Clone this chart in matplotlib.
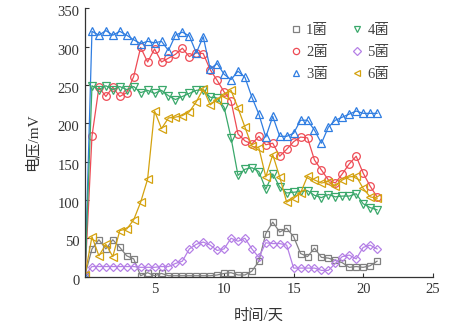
import matplotlib
matplotlib.use('Agg')
import matplotlib.pyplot as plt
from matplotlib.lines import Line2D
from matplotlib.transforms import ScaledTranslation

plt.rcParams['font.family'] = ['Liberation Serif', 'Noto Sans CJK SC']

# sampling time, days
days = [0, 0.5, 1, 1.5, 2, 2.5, 3, 3.5, 4, 4.5, 5, 5.5, 6, 6.5, 7, 7.5,
        8, 8.5, 9, 9.5, 10, 10.5, 11, 11.5, 12, 12.5, 13, 13.5, 14, 14.5,
        15, 15.5, 16, 16.5, 17, 17.5, 18, 18.5, 19, 19.5, 20, 20.5, 21]

# voltage, mV
v1 = [2, 36, 48, 36, 48, 38, 27, 23, 1, 5, 1, 4, 1, 1, 1, 1, 1, 1, 1, 2,
      4, 5, 2, 2, 7, 20, 56, 71, 58, 63, 52, 30, 26, 37, 25, 24, 21, 18,
      12, 13, 12, 14, 20]
v2 = [0, 183, 247, 235, 247, 235, 240, 261, 299, 280, 297, 280, 285, 290,
      298, 287, 292, 291, 270, 256, 241, 229, 186, 177, 173, 183, 172, 174,
      157, 166, 176, 182, 181, 152, 139, 126, 122, 134, 147, 157, 135, 118,
      104]
v3 = [0, 320, 315, 321, 315, 320, 315, 309, 304, 307, 305, 307, 295, 315,
      319, 314, 292, 313, 271, 278, 264, 257, 268, 260, 234, 212, 182, 209,
      183, 183, 187, 204, 204, 191, 174, 195, 204, 208, 212, 216, 213, 213,
      213]
v4 = [0, 249, 244, 249, 244, 248, 244, 248, 240, 243, 239, 243, 236, 231,
      235, 239, 243, 244, 234, 233, 221, 181, 132, 140, 142, 137, 114, 134,
      117, 109, 110, 111, 112, 106, 103, 107, 104, 105, 105, 108, 95, 90, 87]
v5 = [2, 13, 13, 13, 13, 13, 13, 13, 12, 12, 12, 13, 13, 17, 20, 36, 42,
      45, 41, 34, 36, 50, 46, 50, 36, 25, 44, 43, 43, 41, 11, 11, 11, 11,
      8, 8, 17, 26, 28, 23, 38, 41, 36]
v6 = [2, 52, 27, 42, 26, 60, 62, 74, 97, 127, 216, 193, 207, 208, 210, 215,
      228, 245, 224, 231, 237, 243, 220, 195, 170, 168, 130, 159, 130, 97,
      102, 109, 131, 126, 122, 124, 118, 126, 130, 131, 115, 104, 102]

labels = ['1菌', '2菌', '3菌', '4菌', '5菌', '6菌']
colors = ['#808080', '#ee4b55', '#2f7de1', '#3aa86b', '#b580e6', '#d4a20f']
markers = ['s', 'o', '^', 'v', 'D', '<']
sizes = [5, 5.5, 5.5, 5.5, 4.5, 5.5]

fig = plt.figure(figsize=(4.76, 3.35), dpi=100)
ax = fig.add_axes([0.1786, 0.1746, 0.7304, 0.8004])

for vals, c, m, s in zip([v1, v2, v3, v4, v5, v6], colors, markers, sizes):
    ax.plot(days, vals, color=c, lw=0.9, marker=m, ms=s, mfc='none',
            mec=c, mew=0.9)

ax.set_xlim(0, 25)
ax.set_ylim(0, 350)
ax.set_xticks([5, 10, 15, 20, 25])
ax.set_yticks([0, 50, 100, 150, 200, 250, 300, 350])
ax.tick_params(direction='in', length=3, width=0.8, labelsize=10.5,
               colors='#333333')
ax.tick_params(axis='x', pad=5)
ax.tick_params(axis='y', pad=4)
for lab in ax.get_yticklabels():
    lab.set_transform(lab.get_transform()
                      + ScaledTranslation(0, -0.03, fig.dpi_scale_trans))

for side in ['top', 'right']:
    ax.spines[side].set_visible(False)
for side in ['left', 'bottom']:
    ax.spines[side].set_linewidth(0.9)
    ax.spines[side].set_color('#333333')

ax.set_xlabel('时间/天', fontsize=11, color='#333333', labelpad=9)
ax.set_ylabel('电压/mV', fontsize=11, color='#333333', labelpad=13)

handles = [Line2D([], [], ls='none', marker=m, ms=4.5, mfc='none', mec=c,
                  mew=0.9) for c, m in zip(colors, markers)]
ax.legend(handles, labels, ncol=2, loc='upper right',
          bbox_to_anchor=(0.905, 0.98), frameon=False, fontsize=10.5,
          handlelength=0.6, handletextpad=0.4, columnspacing=1.7,
          labelspacing=0.6, borderpad=0.2, labelcolor='#444444')

fig.savefig('out.png', dpi=100)
